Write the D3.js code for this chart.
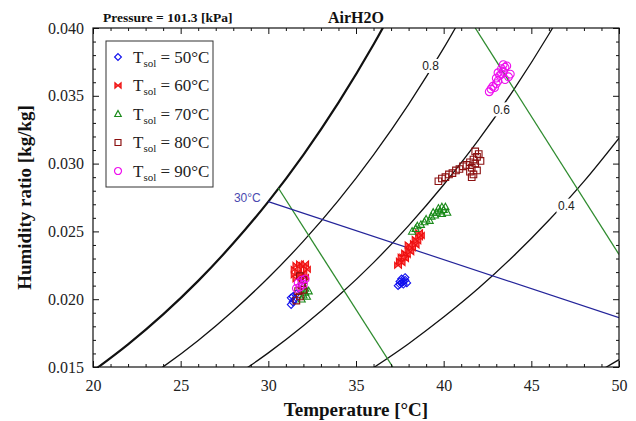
<!DOCTYPE html>
<html>
<head>
<meta charset="utf-8">
<script src="https://cdn.jsdelivr.net/npm/d3@7"></script>
<style>
    body { margin: 0; background: #fff; }
    svg { display: block; }
</style>
</head>
<body>
<svg id="drawing_region"></svg>
<script>
// ---- data ----
const xTicks = [20, 25, 30, 35, 40, 45, 50];
const yTicks = [0.015, 0.020, 0.025, 0.030, 0.035, 0.040];

// relative humidity curves [T, W]
const rh100 = [[20,0.01470],[22,0.01667],[24,0.01888],[26,0.02135],[28,0.02412],[30,0.02720],[32,0.03065],[34,0.03450],[36,0.03878],[38,0.04356]];
const rh80 = [[22,0.01327],[24,0.01501],[26,0.01696],[28,0.01915],[30,0.02158],[32,0.02428],[34,0.02729],[36,0.03065],[38,0.03437],[40,0.03851],[42,0.04309]];
const rh60 = [[28,0.01425],[30,0.01604],[32,0.01804],[34,0.02025],[36,0.02270],[38,0.02543],[40,0.02844],[42,0.03176],[44,0.03546],[46,0.03954],[48,0.04406]];
const rh40 = [[36,0.01495],[38,0.01672],[40,0.01868],[42,0.02082],[44,0.02320],[46,0.02582],[48,0.02869],[50,0.03188]];
const rh20 = [[48,0.01402],[50,0.01554]];
const rhLabels = [
    { text: '0.8', t: 39.25, w: 0.0372 },
    { text: '0.6', t: 43.3, w: 0.0340 },
    { text: '0.4', t: 47.0, w: 0.0269 },
];

// specific volume lines (green) and 30°C wet bulb line (blue)
const vol090 = [[30.57,0.0282],[37.1,0.0150]];
const vol095 = [[41.8,0.0400],[50,0.0233]];
const wetBulb30 = [[30,0.0272],[50,0.01864]];
const wetBulbLabel = { text: '30°C', t: 28.8, w: 0.0275 };

// measured states for each solution temperature
const tsolNames = ['50°C', '60°C', '70°C', '80°C', '90°C'];
const tsol50 = [[31.3,0.0196],[31.4,0.0198],[31.5,0.0200],[31.4,0.0202],[31.6,0.0204],[31.3,0.0201],
    [37.4,0.0210],[37.5,0.0211],[37.6,0.0212],[37.7,0.0213],[37.8,0.0214],[37.6,0.0215],[37.5,0.0213],[37.7,0.0211],[37.9,0.0212],[37.8,0.0216]];
const tsol60 = [[31.5,0.0218],[31.5,0.0222],[31.6,0.0225],[31.8,0.0226],[32.0,0.0224],[32.1,0.0226],[32.2,0.0222],[31.7,0.0220],[31.9,0.0218],[32.0,0.0219],[31.6,0.0215],[32.1,0.0216],
    [37.4,0.0225],[37.5,0.0228],[37.6,0.0227],[37.7,0.0231],[37.8,0.0230],[37.8,0.0234],[37.9,0.0233],[38.0,0.0236],[38.1,0.0235],[38.1,0.0239],[38.2,0.0238],[38.3,0.0241],[38.4,0.0240],[38.4,0.0244],[38.5,0.0243],[38.6,0.0246],[38.7,0.0247],[38.6,0.0249],[37.6,0.0231],[38.0,0.0240]];
const tsol70 = [[31.9,0.0200],[32.0,0.0203],[32.1,0.0205],[32.1,0.0208],[32.2,0.0202],[32.3,0.0206],[32.0,0.0210],
    [38.2,0.0250],[38.4,0.0252],[38.5,0.0254],[38.7,0.0255],[38.9,0.0257],[39.0,0.0259],[39.2,0.0258],[39.3,0.0261],[39.5,0.0262],[39.6,0.0264],[39.8,0.0265],[39.9,0.0263],[40.0,0.0266],[40.1,0.0268],[39.7,0.0267],[39.4,0.0264],[40.2,0.0264],[39.9,0.0268]];
const tsol80 = [[31.6,0.0199],[31.8,0.0202],[31.7,0.0206],[31.9,0.0210],[32.0,0.0214],[31.8,0.0217],[32.0,0.0207],
    [39.7,0.0287],[39.9,0.0289],[40.1,0.0290],[40.3,0.0292],[40.5,0.0293],[40.7,0.0295],[40.9,0.0296],[41.1,0.0298],[41.3,0.0299],[41.5,0.0301],[41.7,0.0303],[41.9,0.0305],[42.0,0.0307],[41.8,0.0300],[41.6,0.0297],[41.9,0.0295],[42.1,0.0302],[41.7,0.0292],[41.5,0.0294],[41.6,0.0290],[41.8,0.0309]];
const tsol90 = [[31.6,0.0208],[31.7,0.0212],[31.9,0.0214],[32.0,0.0211],[31.8,0.0209],[32.1,0.0215],
    [42.6,0.0353],[42.7,0.0355],[42.8,0.0357],[42.9,0.0356],[43.0,0.0359],[43.1,0.0361],[43.0,0.0363],[43.2,0.0365],[43.1,0.0367],[43.3,0.0366],[43.4,0.0368],[43.3,0.0370],[43.5,0.0371],[43.4,0.0373],[43.6,0.0372],[43.7,0.0364],[43.8,0.0366],[43.5,0.0362]];

// ---- layout ----
const config = {
    width: 636,
    height: 421,
    margin: { top: 28, right: 17, bottom: 54, left: 93 },
};
const inner_width = config.width - config.margin.left - config.margin.right;
const inner_height = config.height - config.margin.top - config.margin.bottom;

const svg = d3.select('#drawing_region')
    .attr('width', config.width)
    .attr('height', config.height);

const chart = svg.append('g')
    .attr('transform', `translate(${config.margin.left}, ${config.margin.top})`);

const xscale = d3.scaleLinear().domain([20, 50]).range([0, inner_width]);
const yscale = d3.scaleLinear().domain([0.015, 0.040]).range([inner_height, 0]);

svg.append('defs').append('clipPath').attr('id', 'plot_clip')
    .append('rect').attr('width', inner_width).attr('height', inner_height);

const plot = chart.append('g').attr('clip-path', 'url(#plot_clip)');

const line = d3.line()
    .x(d => xscale(d[0]))
    .y(d => yscale(d[1]))
    .curve(d3.curveMonotoneX);

// RH curves
const rhCurves = [rh100, rh80, rh60, rh40, rh20];
rhCurves.forEach((c, i) => {
    plot.append('path')
        .attr('d', line(c))
        .attr('fill', 'none')
        .attr('stroke', '#111')
        .attr('stroke-width', i == 0 ? 2.2 : 1.3);
});

// volume lines
[vol090, vol095].forEach(c => {
    plot.append('path')
        .attr('d', line(c))
        .attr('fill', 'none')
        .attr('stroke', '#2e8b2e')
        .attr('stroke-width', 1.3);
});

// wet bulb line
plot.append('path')
    .attr('d', line(wetBulb30))
    .attr('fill', 'none')
    .attr('stroke', '#24249a')
    .attr('stroke-width', 1.2);

// rh labels with white background
rhLabels.forEach(l => {
    const g = plot.append('g')
        .attr('transform', `translate(${xscale(l.t)}, ${yscale(l.w)})`);
    g.append('rect')
        .attr('x', -10).attr('y', -7).attr('width', 20).attr('height', 14)
        .attr('fill', '#fff');
    g.append('text')
        .text(l.text)
        .attr('text-anchor', 'middle')
        .attr('dy', '0.35em')
        .attr('font-family', 'Liberation Sans, Arial, sans-serif')
        .attr('font-size', '12px')
        .attr('fill', '#222');
});

chart.append('text')
    .text(wetBulbLabel.text)
    .attr('x', xscale(wetBulbLabel.t))
    .attr('y', yscale(wetBulbLabel.w))
    .attr('text-anchor', 'middle')
    .attr('dy', '0.35em')
    .attr('font-family', 'Liberation Sans, Arial, sans-serif')
    .attr('font-size', '12px')
    .attr('fill', '#4a4ab0');

// ---- markers ----
const diamond = 'M0,-3.8L3.8,0L0,3.8L-3.8,0Z';
const bowtie = 'M-3.4,-3L3.4,3L3.4,-3L-3.4,3Z';
const triangle = 'M0,-3.8L3.6,2.8L-3.6,2.8Z';
const square = 'M-3.3,-3.3L3.3,-3.3L3.3,3.3L-3.3,3.3Z';
const circle = 'M3.9,0A3.9,3.9 0 1 1 -3.9,0A3.9,3.9 0 1 1 3.9,0Z';

const markerStyles = [
    { path: diamond, stroke: '#1010ee', fill: 'none' },
    { path: bowtie, stroke: '#ee1010', fill: '#ff5050' },
    { path: triangle, stroke: '#1a8a1a', fill: 'none' },
    { path: square, stroke: '#8b1010', fill: 'none' },
    { path: circle, stroke: '#ee10ee', fill: 'none' },
];

const series = [tsol50, tsol60, tsol70, tsol80, tsol90];
series.forEach((s, i) => {
    const st = markerStyles[i];
    plot.append('g').selectAll('path')
        .data(s)
        .join('path')
        .attr('d', st.path)
        .attr('transform', d => `translate(${xscale(d[0])}, ${yscale(d[1])})`)
        .attr('fill', st.fill)
        .attr('stroke', st.stroke)
        .attr('stroke-width', 1.1);
});

// ---- axes (ticks inward, mirrored) ----
const serif = 'Liberation Serif, Times New Roman, serif';
const xMinor = d3.range(20, 51, 1).filter(v => v % 5 != 0);
const yMinor = d3.range(15, 41, 1).map(v => v / 1000).filter((v, i) => (i % 5) != 0);

function drawAxis(axis, transform, labels) {
    const g = chart.append('g').attr('transform', transform).call(axis);
    g.select('.domain').remove();
    g.selectAll('line').attr('stroke', '#111');
    if (!labels) g.selectAll('text').remove();
    return g;
}

const xb = drawAxis(d3.axisBottom(xscale).tickValues(xTicks).tickSize(-6).tickPadding(13).tickFormat(d3.format('d')),
    `translate(0, ${inner_height})`, true);
xb.selectAll('text').attr('font-family', serif).attr('font-size', '16px').attr('fill', '#222');
drawAxis(d3.axisBottom(xscale).tickValues(xMinor).tickSize(-3), `translate(0, ${inner_height})`, false);
drawAxis(d3.axisTop(xscale).tickValues(xTicks).tickSize(-6), 'translate(0, 0)', false);
drawAxis(d3.axisTop(xscale).tickValues(xMinor).tickSize(-3), 'translate(0, 0)', false);

const yl = drawAxis(d3.axisLeft(yscale).tickValues(yTicks).tickSize(-6).tickPadding(9).tickFormat(d3.format('.3f')),
    'translate(0, 0)', true);
yl.selectAll('text').attr('font-family', serif).attr('font-size', '16px').attr('fill', '#222');
drawAxis(d3.axisLeft(yscale).tickValues(yMinor).tickSize(-3), 'translate(0, 0)', false);
drawAxis(d3.axisRight(yscale).tickValues(yTicks).tickSize(-6), `translate(${inner_width}, 0)`, false);
drawAxis(d3.axisRight(yscale).tickValues(yMinor).tickSize(-3), `translate(${inner_width}, 0)`, false);

chart.append('rect')
    .attr('width', inner_width)
    .attr('height', inner_height)
    .attr('fill', 'none')
    .attr('stroke', '#111')
    .attr('stroke-width', 1.2);

// ---- titles ----
chart.append('text')
    .text('Temperature [°C]')
    .attr('x', inner_width / 2)
    .attr('y', inner_height + 49)
    .attr('text-anchor', 'middle')
    .attr('font-family', serif)
    .attr('font-weight', 'bold')
    .attr('font-size', '19px')
    .attr('fill', '#111');

chart.append('text')
    .text('Humidity ratio [kg/kg]')
    .attr('transform', `translate(${-62}, ${inner_height / 2}) rotate(-90)`)
    .attr('text-anchor', 'middle')
    .attr('font-family', serif)
    .attr('font-weight', 'bold')
    .attr('font-size', '19px')
    .attr('fill', '#111');

svg.append('text')
    .text('Pressure = 101.3 [kPa]')
    .attr('x', 103)
    .attr('y', 22)
    .attr('font-family', serif)
    .attr('font-weight', 'bold')
    .attr('font-size', '13.5px')
    .attr('fill', '#111');

svg.append('text')
    .text('AirH2O')
    .attr('x', config.margin.left + inner_width / 2)
    .attr('y', 23)
    .attr('text-anchor', 'middle')
    .attr('font-family', serif)
    .attr('font-weight', 'bold')
    .attr('font-size', '16px')
    .attr('fill', '#111');

// ---- legend ----
const legend = svg.append('g').attr('transform', 'translate(106, 41)');
legend.append('rect')
    .attr('width', 107)
    .attr('height', 146)
    .attr('fill', '#fff')
    .attr('stroke', '#333')
    .attr('stroke-width', 1);

tsolNames.forEach((name, i) => {
    const row = legend.append('g').attr('transform', `translate(0, ${16 + i * 28.5})`);
    const st = markerStyles[i];
    row.append('path')
        .attr('d', st.path)
        .attr('transform', 'translate(12, 0) scale(0.9)')
        .attr('fill', st.fill)
        .attr('stroke', st.stroke)
        .attr('stroke-width', 1.3);
    const t = row.append('text')
        .attr('x', 27)
        .attr('dy', '0.35em')
        .attr('font-family', serif)
        .attr('font-size', '17px')
        .attr('fill', '#222');
    t.append('tspan').text('T');
    t.append('tspan').text('sol').attr('font-size', '11px').attr('dy', '4');
    t.append('tspan').text(' = ' + name).attr('dy', '-4');
});
</script>
</body>
</html>
